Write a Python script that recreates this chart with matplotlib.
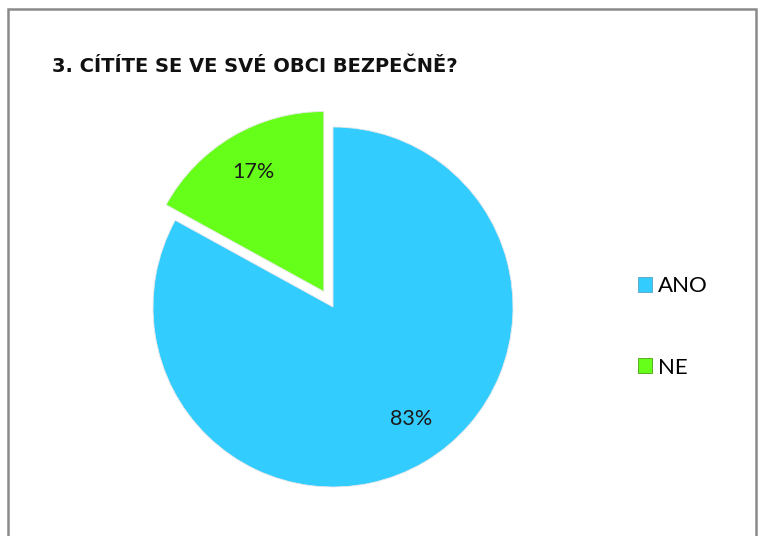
import matplotlib
matplotlib.use("Agg")
import matplotlib.pyplot as plt
from matplotlib.patches import Rectangle, Patch

categories = ["ANO", "NE"]
values = [83, 17]
colors = ["#33CCFF", "#66FF1A"]
explode = [0.0, 0.1]
title = "3. CÍTÍTE SE VE SVÉ OBCI BEZPEČNĚ?"

W, H = 763, 536
fig = plt.figure(figsize=(W / 100, H / 100), dpi=100)
fig.patch.set_facecolor("white")

# outer frame
fig.add_artist(Rectangle((8 / W, -0.05), (756 - 8) / W, 1.05 - 9 / H,
                         transform=fig.transFigure, fill=False,
                         edgecolor="#8a8a8a", linewidth=1.8))

ax = fig.add_axes([117 / W, (H - 523) / H, 432 / W, 432 / H])
wedges, texts, autotexts = ax.pie(
    values, colors=colors, explode=explode, startangle=90, counterclock=False,
    autopct="%1.0f%%", pctdistance=0.77,
    wedgeprops=dict(linewidth=0.6, edgecolor="#e8e8e8"),
    textprops=dict(fontsize=15.5, family=["Lato", "DejaVu Sans"], color="#1a1a1a"))
x, y = autotexts[0].get_position()
autotexts[0].set_position((x + 0.04, y + 0.04))
ax.set_xlim(-1.2, 1.2)
ax.set_ylim(-1.2, 1.2)
ax.set_aspect("equal")
ax.axis("off")

fig.text(52 / W, 1 - 72 / H, title, fontsize=14, fontweight="bold",
         family=["DejaVu Sans"], color="#111111", va="baseline", ha="left")

handles = [Patch(facecolor=c, edgecolor="#5a9fbf" if i == 0 else "#4aa010", linewidth=0.6)
           for i, c in enumerate(colors)]
fig.legend(handles, categories, loc="center left",
           bbox_to_anchor=(618 / W, 1 - 327 / H), frameon=False,
           prop=dict(family=["Lato", "DejaVu Sans"], size=16),
           handlelength=0.65, handleheight=0.65, handletextpad=0.25,
           labelspacing=2.75)

fig.savefig("out.png", dpi=100)
